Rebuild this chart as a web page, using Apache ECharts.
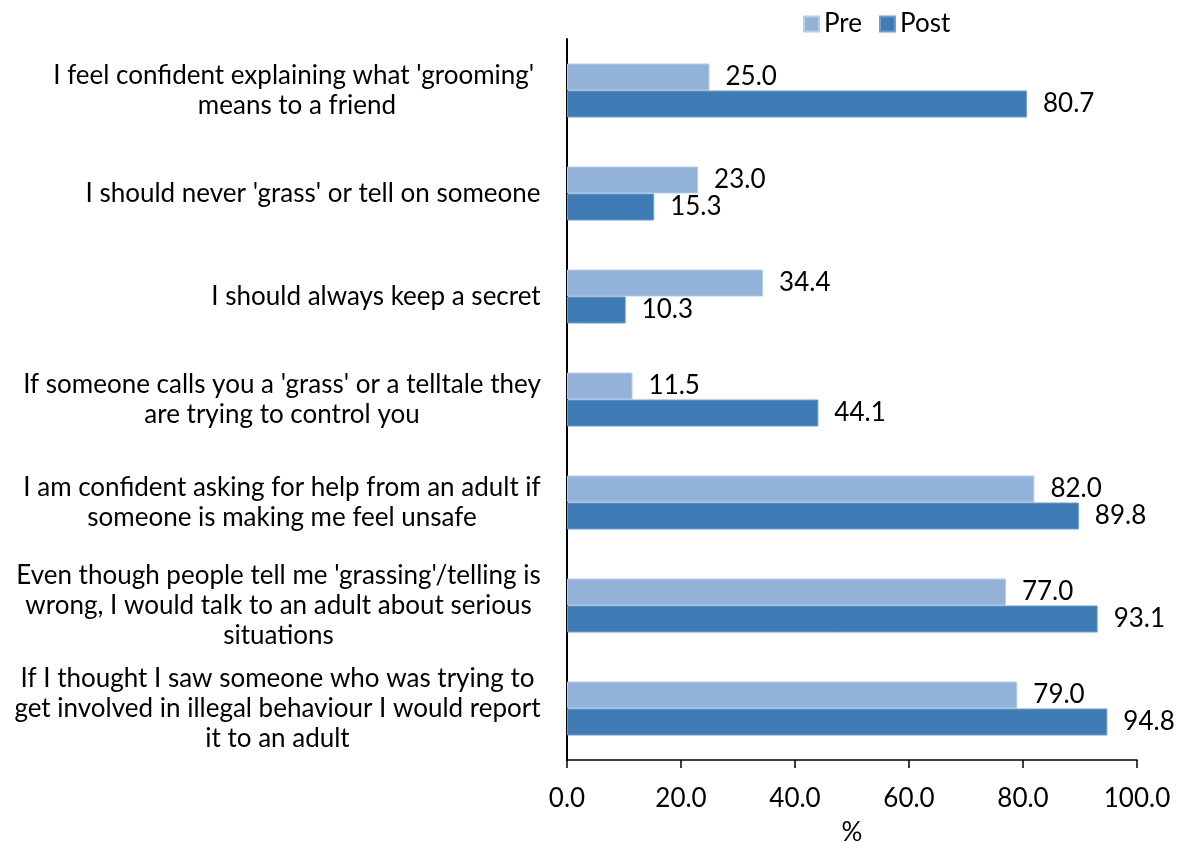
<!DOCTYPE html>
<html>
<head>
<meta charset="utf-8">
<script src="https://cdn.jsdelivr.net/npm/echarts@6/dist/echarts.min.js"></script>
<style>
html, body { margin: 0; padding: 0; background: #fff; }
#chart { width: 1178px; height: 843px; }
</style>
</head>
<body>
<div id="chart"></div>
<script>
// 数据
var categories = [
	"I feel confident explaining what 'grooming' \nmeans to a friend",
	"I should never 'grass' or tell on someone",
	"I should always keep a secret",
	"If someone calls you a 'grass' or a telltale they\nare trying to control you",
	"I am confident asking for help from an adult if\nsomeone is making me feel unsafe",
	"Even though people tell me 'grassing'/telling is\nwrong, I would talk to an adult about serious\nsituations",
	"If I thought I saw someone who was trying to\nget involved in illegal behaviour I would report\nit to an adult"
];
var preValues = [25.0, 23.0, 34.4, 11.5, 82.0, 77.0, 79.0];
var postValues = [80.7, 15.3, 10.3, 44.1, 89.8, 93.1, 94.8];
var xTicks = [0, 20, 40, 60, 80, 100];

var FONT = 'Lato';
var FS = 26;

// 测量每个标签最长行的宽度, 让多行居中
var ctx = document.createElement('canvas').getContext('2d');
ctx.font = FS + 'px ' + FONT;
var rich = {};
categories.forEach(function (c, i) {
	var w = 0;
	c.split('\n').forEach(function (l) {
		w = Math.max(w, ctx.measureText(l).width);
	});
	rich['r' + i] = { width: Math.ceil(w), align: 'center', fontSize: FS, fontFamily: FONT, color: '#000', lineHeight: 30 };
});

var myChart = echarts.init(document.getElementById('chart'));
var option = {
	animation: false,
	textStyle: { fontFamily: FONT },
	legend: {
		left: 798,
		top: 6,
		itemWidth: 15,
		itemHeight: 15,
		itemGap: 17,
		icon: 'rect',
		textStyle: { fontSize: FS, color: '#000', fontFamily: FONT },
		data: ['Pre', 'Post']
	},
	grid: { left: 567, right: 41, top: 39, bottom: 83, containLabel: false, outerBoundsMode: 'none' },
	xAxis: {
		type: 'value',
		min: 0,
		max: 100,
		interval: 20,
		name: '%',
		nameLocation: 'middle',
		nameGap: 60,
		nameTextStyle: { fontSize: FS, color: '#000', fontFamily: FONT },
		axisLine: { show: true, lineStyle: { color: '#000', width: 1.5 } },
		axisTick: { show: true, length: 8, lineStyle: { color: '#000', width: 1.5 } },
		axisLabel: {
			margin: 26,
			fontSize: FS,
			color: '#000',
			fontFamily: FONT,
			formatter: function (v) { return xTicks.indexOf(v) >= 0 ? v.toFixed(1) : ''; }
		},
		splitLine: { show: false }
	},
	yAxis: {
		type: 'category',
		inverse: true,
		data: categories,
		axisLine: { lineStyle: { color: '#000', width: 2 } },
		axisTick: { alignWithLabel: true, length: 6, lineStyle: { color: '#000', width: 2 } },
		axisLabel: {
			margin: 26,
			fontSize: FS,
			color: '#000',
			fontFamily: FONT,
			lineHeight: 30,
			rich: rich,
			formatter: function (v, i) {
				return v.split('\n').map(function (l) { return '{r' + i + '|' + l + '}'; }).join('\n');
			}
		}
	},
	series: [
		{
			name: 'Pre',
			type: 'bar',
			data: preValues,
			barWidth: 27,
			barGap: '0%',
			itemStyle: { color: '#92b2d9', borderColor: '#b9cde6', borderWidth: 1 },
			label: {
				show: true, position: 'right', distance: 16,
				fontSize: FS, color: '#000', fontFamily: FONT,
				formatter: function (p) { return p.value.toFixed(1); }
			}
		},
		{
			name: 'Post',
			type: 'bar',
			data: postValues,
			barWidth: 27,
			barGap: '0%',
			itemStyle: { color: '#3f7bb5', borderColor: '#6f9ccb', borderWidth: 1 },
			label: {
				show: true, position: 'right', distance: 16,
				fontSize: FS, color: '#000', fontFamily: FONT,
				formatter: function (p) { return p.value.toFixed(1); }
			}
		}
	]
};
myChart.setOption(option);
</script>
</body>
</html>
